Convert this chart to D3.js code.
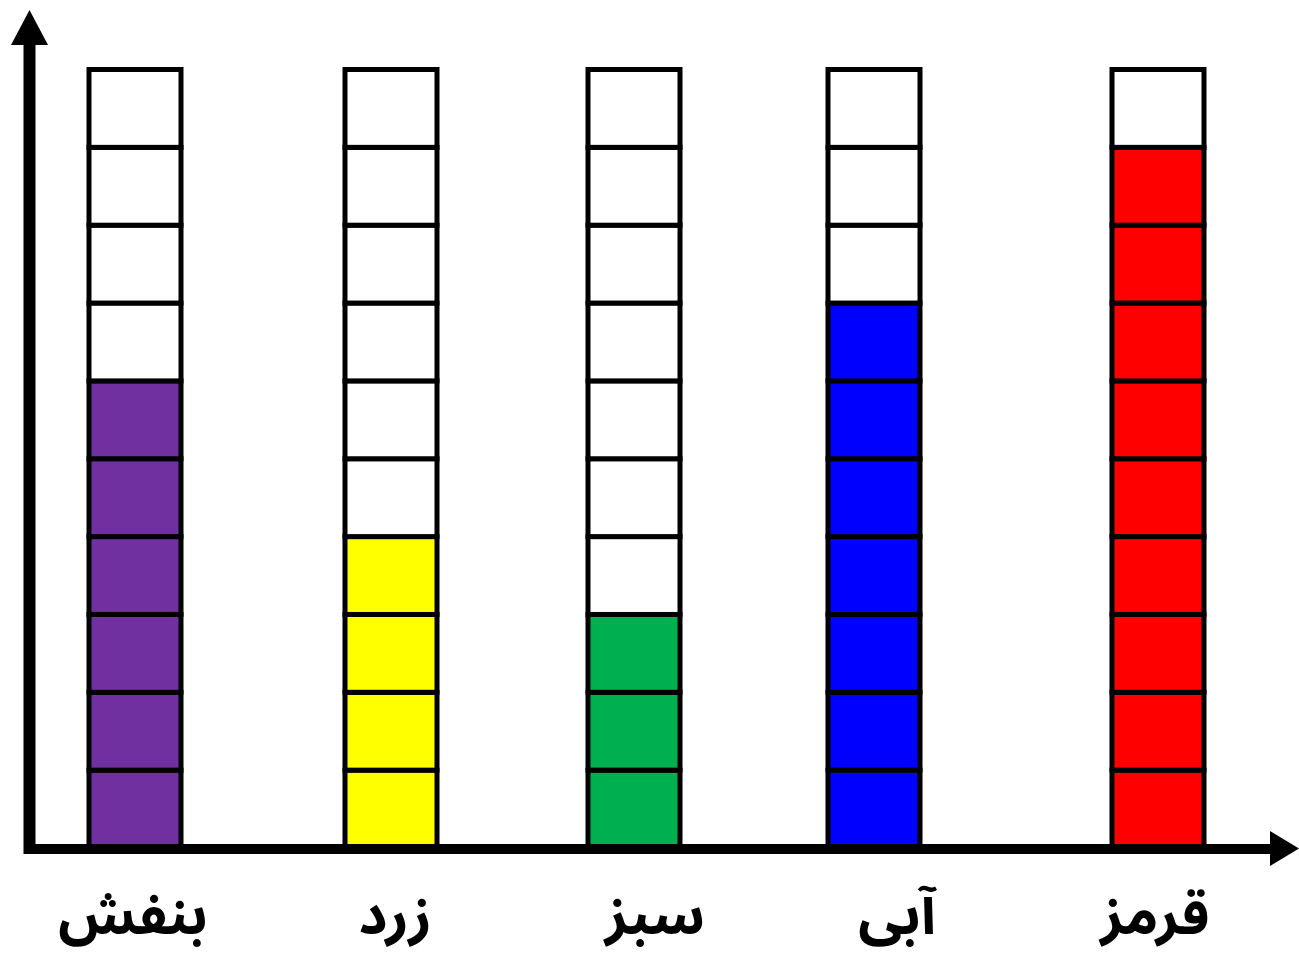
<!DOCTYPE html>
<html>
<head>
<meta charset="utf-8">
<script src="https://cdn.jsdelivr.net/npm/d3@7"></script>
<style>
  html, body { margin: 0; padding: 0; background: #fff; }
  svg { display: block; }
</style>
</head>
<body>
<div id="chart"></div>
<script>
// colour bars, 10 cells each
var categories = ["بنفش", "زرد", "سبز", "آبی", "قرمز"];
var values = [6, 4, 3, 7, 9];
var colors = ["#7030A0", "#FFFF00", "#00B050", "#0000FF", "#FF0000"];
var cellCount = 10;

var W = 1299, H = 957;

var svg = d3.select("#chart").append("svg")
    .attr("width", W)
    .attr("height", H);

var x = d3.scaleOrdinal()
    .domain(categories)
    .range([135, 391, 634, 874, 1158]);

// labels sit a little off the column centres in the original
var labelShift = [-2, 4, 21, 23, -3];

var y = d3.scaleLinear()
    .domain([0, cellCount])
    .range([848, 69.5]);

var colW = 92;

var cols = svg.selectAll("g.col")
    .data(categories)
    .enter()
    .append("g")
    .attr("class", "col");

cols.each(function (cat, ci) {
    var cells = d3.range(cellCount);
    d3.select(this).selectAll("rect")
        .data(cells)
        .enter()
        .append("rect")
        .attr("x", x(cat) - colW / 2)
        .attr("y", function (i) { return y(i + 1); })
        .attr("width", colW)
        .attr("height", function (i) { return y(i) - y(i + 1); })
        .attr("fill", function (i) { return i < values[ci] ? colors[ci] : "#fff"; })
        .attr("stroke", "#000")
        .attr("stroke-width", 5);
});

// axes with arrows
svg.append("line")
    .attr("x1", 29.5).attr("x2", 29.5)
    .attr("y1", 854).attr("y2", 44)
    .attr("stroke", "#000").attr("stroke-width", 12);
svg.append("path")
    .attr("d", "M11,45 L48,45 L29.5,10 Z")
    .attr("fill", "#000");

svg.append("line")
    .attr("x1", 24).attr("x2", 1272)
    .attr("y1", 849).attr("y2", 849)
    .attr("stroke", "#000").attr("stroke-width", 10);
svg.append("path")
    .attr("d", "M1270,831 L1270,866 L1299,848.5 Z")
    .attr("fill", "#000");

svg.selectAll("text.lbl")
    .data(categories)
    .enter()
    .append("text")
    .attr("class", "lbl")
    .attr("x", function (d, i) { return x(d) + labelShift[i]; })
    .attr("y", 934)
    .attr("text-anchor", "middle")
    .attr("direction", "rtl")
    .attr("font-family", "'Noto Sans Arabic', 'Noto Naskh Arabic', 'DejaVu Sans'")
    .attr("font-weight", "bold")
    .attr("font-size", 56)
    .text(function (d) { return d; });
</script>
</body>
</html>
